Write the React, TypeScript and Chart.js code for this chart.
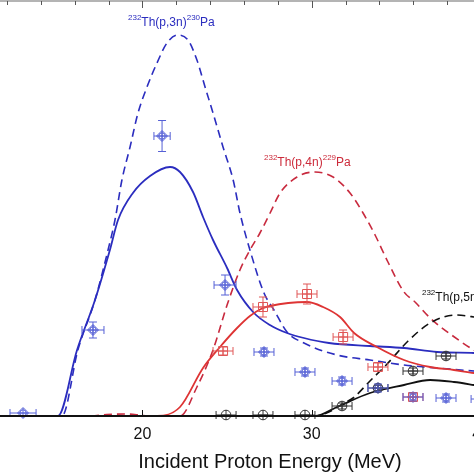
import React, { useEffect, useRef } from "react";
import { Chart, registerables } from "chart.js";

Chart.register(...registerables);

const FONT = "'Liberation Sans', Arial, Helvetica, sans-serif";

// Axis ranges (MeV on x, cross-section units on y)
const xMin = 11.59;
const xMax = 43.48;
const yMax = 830;
const xTickLabels = [20, 30, 40];
const xMinorTicks = [12, 14, 16, 18, 20, 22, 24, 26, 28, 30, 32, 34, 36, 38, 40, 42];
const axisTitle = "Incident Proton Energy (MeV)";

// 232Th(p,3n)230Pa calculations
const p3nDashedX = [11.59, 15.25, 16.19, 17.2, 17.97, 18.38, 18.79, 19.27, 19.74, 20.27, 20.86, 21.45, 22.1, 22.69, 23.22, 23.7, 24.17, 24.76, 25.36, 25.76, 26.35, 27.18, 27.77, 28.54, 29.54, 31.49, 33.44, 35.45, 37.4, 39.58, 43.48];
const p3nDashedY = [0, 0, 132, 232, 332, 392, 472, 538, 606, 658, 706, 746, 762, 752, 712, 658, 606, 538, 472, 406, 332, 246, 212, 168, 146, 122, 112, 102, 96, 90, 82];
const p3nSolidX = [11.59, 15.01, 16.14, 17.2, 18.08, 18.56, 19.44, 20.45, 21.63, 22.22, 22.99, 23.58, 24.17, 25.0, 25.59, 26.59, 27.53, 28.54, 29.54, 31.02, 33.44, 35.45, 37.4, 39.58, 43.48];
const p3nSolidY = [0, 0, 132, 232, 332, 392, 446, 480, 498, 488, 448, 398, 352, 296, 252, 206, 182, 166, 156, 146, 140, 136, 128, 126, 120];

// 232Th(p,4n)229Pa calculations
const p4nDashedX = [11.59, 17.0, 17.9, 19.0, 19.8, 20.3, 22.22, 23.22, 24.17, 25.0, 25.76, 26.35, 26.94, 27.54, 28.13, 29.13, 30.19, 31.26, 32.26, 33.03, 33.74, 34.5, 35.45, 36.1, 36.99, 38.34, 39.58, 43.48];
const p4nDashedY = [0, 0, 3, 4, 2, 0, 0, 58, 132, 222, 292, 332, 366, 406, 446, 478, 488, 478, 446, 406, 362, 308, 248, 228, 196, 160, 132, 72];
const p4nSolidX = [11.59, 20.86, 22.22, 23.58, 24.58, 25.59, 26.35, 27.0, 27.53, 29.72, 30.67, 31.67, 32.5, 33.85, 35.45, 36.99, 38.4, 39.58, 43.48];
const p4nSolidY = [0, 0, 18, 96, 138, 176, 200, 214, 220, 228, 218, 198, 166, 138, 112, 98, 92, 86, 76];

// 232Th(p,5n)228Pa calculations
const p5nDashedX = [11.59, 30.19, 31.26, 31.91, 32.44, 33.44, 34.45, 35.69, 36.99, 38.52, 39.58, 43.48];
const p5nDashedY = [0, 0, 12, 26, 36, 70, 104, 150, 186, 202, 198, 172];
const p5nSolidX = [11.59, 30.2, 31.49, 33.44, 35.45, 36.99, 38.4, 39.58, 43.48];
const p5nSolidY = [0, 0, 18, 46, 62, 72, 68, 62, 40];

// Experimental points
const exp3nX = [12.95, 17.08, 21.16, 24.88, 27.18, 29.6, 31.79, 33.91, 35.98, 37.93, 40.0];
const exp3nY = [6, 172, 560, 262, 128, 88, 70, 56, 38, 36, 34];
const exp3nXErr = [0.77, 0.65, 0.48, 0.65, 0.59, 0.59, 0.59, 0.59, 0.59, 0.59, 0.59];
const exp3nYErr = [0, 16, 31, 20, 8, 8, 8, 8, 8, 8, 8];

const exp4nX = [24.76, 27.12, 29.72, 31.85, 33.91, 35.98];
const exp4nY = [130, 218, 244, 158, 98, 38];
const exp4nXErr = [0.59, 0.59, 0.59, 0.59, 0.59, 0.59];
const exp4nYErr = [8, 20, 20, 14, 8, 8];

const exp5nX = [24.94, 27.12, 29.6, 31.79, 33.91, 35.98, 37.93];
const exp5nY = [2, 2, 2, 20, 56, 90, 120];
const exp5nXErr = [0.59, 0.59, 0.59, 0.59, 0.59, 0.59, 0.59];
const exp5nYErr = [0, 0, 0, 6, 6, 6, 6];

// Reaction labels: [prefix mass, reaction, product mass, product]
const reactionParts = [
  ["232", "Th(p,3n)", "230", "Pa"],
  ["232", "Th(p,4n)", "229", "Pa"],
  ["232", "Th(p,5n)", "228", "Pa"],
];
const reactionLabelX = [19.15, 27.18, 36.51];
const reactionLabelY = [780, 500, 230];

const BLUE = "#2b2dbf";
const BLUE_PT = "#5560d6";
const RED = "#de3434";
const RED_DASH = "#c82a3e";
const RED_PT = "#e05656";
const BLACK = "#111111";
const BLACK_PT = "#333333";
const labelColors = [BLUE, "#cc2b3b", BLACK];

const pts = (xs: number[], ys: number[]) => xs.map((x, i) => ({ x, y: ys[i] }));

function makeMarker(kind: string, color: string): HTMLCanvasElement {
  const c = document.createElement("canvas");
  c.width = 14;
  c.height = 14;
  const g = c.getContext("2d")!;
  g.strokeStyle = color;
  g.lineWidth = 1;
  const m = 7;
  g.beginPath();
  if (kind === "diamond") {
    g.moveTo(m, m - 5.5);
    g.lineTo(m + 5.5, m);
    g.lineTo(m, m + 5.5);
    g.lineTo(m - 5.5, m);
    g.closePath();
    g.stroke();
    g.beginPath();
    g.arc(m, m, 3.2, 0, Math.PI * 2);
    g.stroke();
  } else if (kind === "square") {
    g.rect(m - 4.5, m - 4.5, 9, 9);
    g.stroke();
  } else {
    g.arc(m, m, 4.8, 0, Math.PI * 2);
    g.stroke();
  }
  g.beginPath();
  g.moveTo(m - 5, m);
  g.lineTo(m + 5, m);
  g.moveTo(m, m - 5);
  g.lineTo(m, m + 5);
  g.stroke();
  return c;
}

const errorBarPlugin = {
  id: "errorBars",
  afterDatasetsDraw(chart: any) {
    const { ctx } = chart;
    const xs = chart.scales.x;
    const ys = chart.scales.y;
    chart.data.datasets.forEach((ds: any) => {
      if (!ds.errX) return;
      ctx.save();
      ctx.strokeStyle = ds.errColor;
      ctx.lineWidth = 1;
      ds.data.forEach((p: any, j: number) => {
        const px = xs.getPixelForValue(p.x);
        const py = ys.getPixelForValue(p.y);
        const ex = ds.errX[j];
        const ey = ds.errY[j];
        ctx.beginPath();
        if (ex) {
          const x0 = xs.getPixelForValue(p.x - ex);
          const x1 = xs.getPixelForValue(p.x + ex);
          ctx.moveTo(x0, py);
          ctx.lineTo(x1, py);
          ctx.moveTo(x0, py - 4);
          ctx.lineTo(x0, py + 4);
          ctx.moveTo(x1, py - 4);
          ctx.lineTo(x1, py + 4);
        }
        if (ey) {
          const y0 = ys.getPixelForValue(p.y - ey);
          const y1 = ys.getPixelForValue(p.y + ey);
          ctx.moveTo(px, y0);
          ctx.lineTo(px, y1);
          ctx.moveTo(px - 4, y0);
          ctx.lineTo(px + 4, y0);
          ctx.moveTo(px - 4, y1);
          ctx.lineTo(px + 4, y1);
        }
        ctx.stroke();
      });
      ctx.restore();
    });
  },
};

const frameAndLabelsPlugin = {
  id: "frameAndLabels",
  afterDraw(chart: any) {
    const { ctx, chartArea } = chart;
    const xs = chart.scales.x;
    const ys = chart.scales.y;
    ctx.save();
    // top axis
    ctx.fillStyle = "#b4b4b4";
    ctx.fillRect(chartArea.left, chartArea.top - 1, chartArea.right - chartArea.left, 2);
    ctx.strokeStyle = "#555555";
    ctx.lineWidth = 1;
    ctx.beginPath();
    xMinorTicks.forEach((v) => {
      const px = Math.round(xs.getPixelForValue(v)) + 0.5;
      const len = xTickLabels.includes(v) ? 7 : 4;
      ctx.moveTo(px, chartArea.top);
      ctx.lineTo(px, chartArea.top + len);
    });
    ctx.stroke();
    // bottom axis
    ctx.strokeStyle = "#111111";
    ctx.lineWidth = 2;
    ctx.beginPath();
    ctx.moveTo(chartArea.left, chartArea.bottom);
    ctx.lineTo(chartArea.right, chartArea.bottom);
    ctx.stroke();
    ctx.lineWidth = 1;
    ctx.beginPath();
    xTickLabels.forEach((v) => {
      const px = Math.round(xs.getPixelForValue(v)) + 0.5;
      ctx.moveTo(px, chartArea.bottom);
      ctx.lineTo(px, chartArea.bottom - 6);
    });
    ctx.stroke();
    // reaction labels
    ctx.textBaseline = "alphabetic";
    ctx.textAlign = "left";
    reactionParts.forEach((parts, i) => {
      let px = xs.getPixelForValue(reactionLabelX[i]);
      const py = ys.getPixelForValue(reactionLabelY[i]);
      ctx.fillStyle = labelColors[i];
      parts.forEach((t, k) => {
        const sup = k % 2 === 0;
        ctx.font = sup ? `8px ${FONT}` : `12px ${FONT}`;
        ctx.fillText(t, px, sup ? py - 6 : py);
        px += ctx.measureText(t).width;
      });
    });
    ctx.restore();
  },
};

export default function App() {
  const ref = useRef<HTMLCanvasElement>(null);
  useEffect(() => {
    if (!ref.current) return;
    const lineDs = (label: string, xs: number[], ys: number[], color: string, dashed: boolean, width: number) => ({
      type: "line" as const,
      label,
      data: pts(xs, ys),
      showLine: true,
      borderColor: color,
      borderWidth: width,
      borderDash: dashed ? [8, 5] : [],
      pointRadius: 0,
      fill: false,
      cubicInterpolationMode: "monotone" as const,
    });
    const pointDs = (label: string, xs: number[], ys: number[], ex: number[], ey: number[], marker: HTMLCanvasElement, color: string) => ({
      type: "scatter" as const,
      label,
      data: pts(xs, ys),
      showLine: false,
      pointStyle: marker,
      pointRadius: 6,
      errX: ex,
      errY: ey,
      errColor: color,
      clip: false,
    });
    const chart = new Chart(ref.current, {
      type: "scatter",
      data: {
        datasets: [
          pointDs("exp 5n", exp5nX, exp5nY, exp5nXErr, exp5nYErr, makeMarker("circle", BLACK_PT), BLACK_PT),
          pointDs("exp 4n", exp4nX, exp4nY, exp4nXErr, exp4nYErr, makeMarker("square", RED_PT), RED_PT),
          pointDs("exp 3n", exp3nX, exp3nY, exp3nXErr, exp3nYErr, makeMarker("diamond", BLUE_PT), BLUE_PT),
          lineDs("5n solid", p5nSolidX, p5nSolidY, BLACK, false, 1.8),
          lineDs("4n solid", p4nSolidX, p4nSolidY, RED, false, 1.8),
          lineDs("3n solid", p3nSolidX, p3nSolidY, BLUE, false, 1.8),
          lineDs("5n dashed", p5nDashedX, p5nDashedY, BLACK, true, 1.6),
          lineDs("4n dashed", p4nDashedX, p4nDashedY, RED_DASH, true, 1.6),
          lineDs("3n dashed", p3nDashedX, p3nDashedY, BLUE, true, 1.6),
        ] as any,
      },
      options: {
        responsive: false,
        animation: false,
        devicePixelRatio: 1,
        layout: { autoPadding: false, padding: { top: 1, left: 0, right: 0, bottom: 0 } },
        plugins: {
          legend: { display: false },
          tooltip: { enabled: false },
        },
        scales: {
          x: {
            type: "linear",
            min: xMin,
            max: xMax,
            position: "bottom",
            grid: { display: false, drawTicks: false },
            border: { display: false },
            ticks: {
              color: "#111111",
              font: { family: FONT, size: 16 },
              padding: 9,
              maxRotation: 0,
              autoSkip: false,
              callback: (v: any) => String(v),
            },
            afterBuildTicks: (s: any) => {
              s.ticks = xTickLabels.map((v) => ({ value: v }));
            },
            afterFit: (s: any) => {
              s.height = 58;
              s.paddingLeft = 0;
              s.paddingRight = 0;
            },
            title: {
              display: true,
              text: axisTitle,
              color: "#111111",
              font: { family: FONT, size: 20 },
              padding: { top: 0, bottom: 0 },
            },
          },
          y: { type: "linear", display: false, min: 0, max: yMax },
        },
      } as any,
      plugins: [errorBarPlugin, frameAndLabelsPlugin],
    });
    return () => chart.destroy();
  }, []);
  return (
    <div style={{ position: "fixed", left: 0, top: 0, width: 474, height: 474, overflow: "hidden", background: "#ffffff" }}>
      <canvas ref={ref} width={540} height={474} style={{ display: "block" }} />
    </div>
  );
}
